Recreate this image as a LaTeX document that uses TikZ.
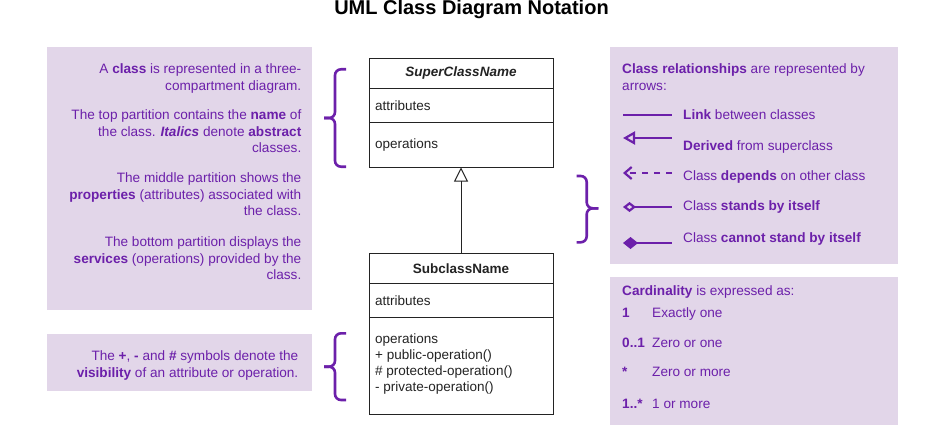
\documentclass[tikz,border=0pt]{standalone}
\usepackage{fontspec}
\setmainfont{Liberation Sans}
\usepackage{tikz}
\usepackage{xcolor}
\definecolor{Lavender}{RGB}{226, 214, 233}
\definecolor{Grape}{RGB}{108, 32, 170}
\definecolor{Ink}{RGB}{35, 35, 35}
\usetikzlibrary{arrows.meta, positioning}

\begin{document}
\begin{tikzpicture}[
    x=1pt, y=-1pt,
    panel/.style={fill=Lavender},
    note/.style={font=\fontsize{13.6}{16.5}\selectfont, text=Grape, inner sep=0pt},
    brace/.style={draw=Grape, line width=2.6pt, rounded corners=6pt},
    comp/.style={draw=Ink, line width=1pt, minimum width=184pt, inner sep=0pt, outer sep=0pt, text=Ink, font=\fontsize{13.5}{16}\selectfont},
    head/.style={comp, minimum height=30pt, font=\fontsize{13.5}{16}\selectfont\bfseries},
    field/.style={comp, text width=172pt, inner xsep=6pt, align=left},
    sample/.style={draw=Grape, line width=2.2pt},
    inherit/.style={-{Triangle[open, length=14pt, width=14pt]}, draw=Ink, line width=1pt}
]
\useasboundingbox (0,0) rectangle (948,436);

% Title
\node[font=\fontsize{20}{24}\selectfont\bfseries, anchor=base, inner sep=0pt] (title) at (471.5,14.5) {UML Class Diagram Notation};

% Panels
\fill[panel] (47,46.7) rectangle (311.7,310);
\fill[panel] (47,334) rectangle (311.7,391);
\fill[panel] (610,46.7) rectangle (897.7,264);
\fill[panel] (610,276.7) rectangle (897.7,425);

% Notes on the left (base = last line)
\node[note, anchor=base east, align=right] (pclass) at (301.5,90) {A \textbf{class} is represented in a three-\\compartment diagram.};
\node[note, anchor=base east, align=right] (ptop) at (301.5,152.5) {The top partition contains the \textbf{name} of\\the class. \textbf{\textit{Italics}} denote \textbf{abstract}\\classes.};
\node[note, anchor=base east, align=right] (pmiddle) at (301.5,215.5) {The middle partition shows the\\\textbf{properties} (attributes) associated with\\the class.};
\node[note, anchor=base east, align=right] (pbottom) at (301.5,279.5) {The bottom partition displays the\\\textbf{services} (operations) provided by the\\class.};
\node[note, anchor=base east, align=right] (pvisib) at (298.5,377) {The \textbf{+}, \textbf{-} and \textbf{\#} symbols denote the\\\textbf{visibility} of an attribute or operation.};

% Braces
\draw[brace] (346,69.3) -- (335,69.3) -- (335,118) -- (324,118);
\draw[brace] (324,118) -- (335,118) -- (335,166.7) -- (346,166.7);
\draw[brace] (346,333.3) -- (335,333.3) -- (335,366.7) -- (324,366.7);
\draw[brace] (324,366.7) -- (335,366.7) -- (335,400) -- (346,400);
\draw[brace] (576.7,176) -- (586.7,176) -- (586.7,208.3) -- (598.3,208.3);
\draw[brace] (598.3,208.3) -- (586.7,208.3) -- (586.7,242.3) -- (576.7,242.3);

% Superclass
\node[head, font=\fontsize{13.5}{16}\selectfont\bfseries\itshape] (superhead) at (461,73.5) {SuperClassName};
\node[field, minimum height=34pt, below=0pt of superhead] (superattr) {attributes};
\node[field, minimum height=45pt, below=0pt of superattr] (superops) {operations};

% Subclass
\node[head] (subhead) at (461,268.3) {SubclassName};
\node[field, minimum height=34.4pt, below=0pt of subhead] (subattr) {attributes};
\node[comp, minimum height=96.5pt, below=0pt of subattr] (subops) {};
\node[note, text=Ink, font=\fontsize{13.5}{16}\selectfont, anchor=north west, align=left] (subopstext) at ([xshift=6pt, yshift=-16pt]subops.north west) {operations\\+ public-operation()\\\# protected-operation()\\- private-operation()};

\draw[inherit] (subhead.north) -- (superops.south);

% Relationships
\node[note, anchor=base west, align=left] (rel) at (622,90) {\textbf{Class relationships} are represented by\\arrows:};
\foreach \n/\y in {link/115, derived/138, depends/173, agg/207, compo/243} {
    \coordinate (\n-a) at (623,\y);
    \coordinate (\n-b) at (672,\y);
}
\draw[sample] (link-a) -- (link-b);
\draw[sample, {Triangle[open, length=12pt, width=13pt]}-] (derived-a) -- (derived-b);
\draw[sample, dash pattern=on 6pt off 6pt, -{Straight Barb[length=7pt, width=12pt]}] (depends-b) -- (depends-a);
\draw[sample, {Diamond[open, length=13pt, width=10pt]}-] (agg-a) -- (agg-b);
\draw[sample, {Diamond[length=15pt, width=12pt]}-] (compo-a) -- (compo-b);
\node[note, anchor=base west] (tlink) at (683,119.5) {\textbf{Link} between classes};
\node[note, anchor=base west] (tderived) at (683,150.5) {\textbf{Derived} from superclass};
\node[note, anchor=base west] (tdepends) at (683,180.5) {Class \textbf{depends} on other class};
\node[note, anchor=base west] (tagg) at (683,210) {Class \textbf{stands by itself}};
\node[note, anchor=base west] (tcompo) at (683,242) {Class \textbf{cannot stand by itself}};

% Cardinality
\node[note, anchor=base west] (card) at (622,295.5) {\textbf{Cardinality} is expressed as:};
\foreach \k/\lab/\txt/\y in {one/1/Exactly one/317, opt/0..1/Zero or one/347, many/*/Zero or more/376.5, some/1..*/1 or more/408.5} {
    \node[note, anchor=base west, font=\fontsize{13.6}{16.5}\selectfont\bfseries] (\k-lab) at (622,\y) {\lab};
    \node[note, anchor=base west] (\k-txt) at (652,\y) {\txt};
}

\end{tikzpicture}
\end{document}
